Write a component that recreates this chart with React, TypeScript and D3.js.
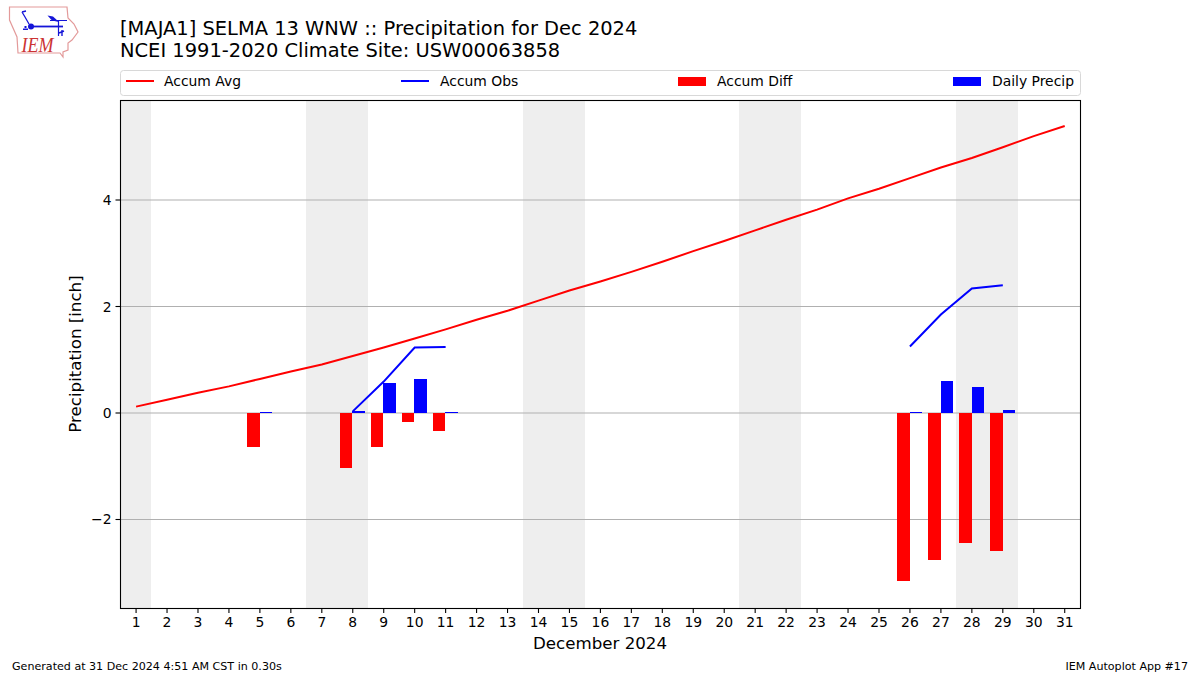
import React from "react";
import * as d3 from "d3";

const days = d3.range(1, 32);
const accumAvg = [0.12,0.25,0.38,0.5,0.64,0.78,0.91,1.07,1.23,1.40,1.57,1.75,1.92,2.11,2.30,2.47,2.65,2.84,3.04,3.23,3.43,3.63,3.82,4.03,4.21,4.41,4.61,4.79,4.99,5.2,5.39];
const obsDaysA = [8,9,10,11];
const obsValsA = [0.03,0.59,1.23,1.24];
const obsDaysB = [26,27,28,29];
const obsValsB = [1.25,1.85,2.34,2.40];
const diffDays = [5,8,9,10,11,26,27,28,29];
const diffVals = [-0.63,-1.03,-0.63,-0.17,-0.33,-3.16,-2.76,-2.45,-2.59];
const precipDays = [5,8,9,10,11,26,27,28,29];
const precipVals = [0.02,0.03,0.56,0.63,0.02,0.02,0.60,0.49,0.06];
const weekends: [number, number][] = [[0.5,1.5],[6.5,8.5],[13.5,15.5],[20.5,22.5],[27.5,29.5]];
const yTicks = [-2,0,2,4];

const FONT = "'DejaVu Sans', sans-serif";
const L = 120.5, R = 1080.5, T = 100, B = 608;
const x = d3.scaleLinear().domain([0.5, 31.5]).range([L - 0.2, R - 0.6]);
const y = d3.scaleLinear().domain([5.878, -3.662]).range([T, B]);
const BW = 0.4;

const line = d3.line<[number, number]>().x(d => x(d[0]) + 0.3).y(d => y(d[1]));
const pairs = (a: number[], b: number[]) => a.map((v, i) => [v, b[i]] as [number, number]);

function Logo() {
  return (
    <g>
      <path d="M9.5 7 L67 7 L68 18 L74 24 L78 32 L72 40 L68 43 L68 50 L63 52 L63 57 L60 53 L18 53 L17 37 L9.5 20 Z" fill="#fff" stroke="#e39a9a" strokeWidth={1.2} />
      <g stroke="#1515d8" fill="none">
        <path d="M31 26.5 L63 26.5" strokeWidth={1.8} />
        <path d="M22 12 L25 17 L29 24 M22 12 L26 11" strokeWidth={1.3} />
        <path d="M50 20.5 L67 20.5 M58.5 21 L58.5 36" strokeWidth={1.2} />
        <path d="M62 30 L62 36 M59 33 L64 31" strokeWidth={1.4} />
      </g>
      <path d="M47.5 15.5 L53 16.5 L59 22 L52 20.5 Z" fill="#1515d8" />
      <circle cx={31} cy={26.5} r={3} fill="#1515d8" />
      <path d="M23 28.5 h5 v1.5 h-5 Z M24.5 26 h2 v2 h-2 Z" fill="#1515d8" />
      <text x={21.5} y={52} fontFamily="'Liberation Serif', serif" fontStyle="italic" fontSize={21} textLength={32} lengthAdjust="spacingAndGlyphs" fill="#cc3333">IEM</text>
    </g>
  );
}

export default function App() {
  return (
    <svg width={1200} height={675} style={{ position: "absolute", left: 0, top: 0, background: "#fff" }} fontFamily={FONT}>
      <rect width={1200} height={675} fill="#fff" />
      <Logo />
      <text x={120} y={35} fontSize={19.45} fill="#000">[MAJA1] SELMA 13 WNW :: Precipitation for Dec 2024</text>
      <text x={120} y={57} fontSize={19.45} fill="#000">NCEI 1991-2020 Climate Site: USW00063858</text>

      <rect x={120.5} y={70.5} width={960} height={25} rx={3} fill="#fff" stroke="#d8d8d8" />
      <line x1={126} x2={154} y1={81} y2={81} stroke="#ff0000" strokeWidth={2} />
      <text x={164} y={86} fontSize={13.9}>Accum Avg</text>
      <line x1={401} x2={429} y1={81} y2={81} stroke="#0000ff" strokeWidth={2} />
      <text x={440} y={86} fontSize={13.9}>Accum Obs</text>
      <rect x={678} y={77} width={28} height={9} fill="#ff0000" />
      <text x={717} y={86} fontSize={13.9}>Accum Diff</text>
      <rect x={953} y={77} width={28} height={9} fill="#0000ff" />
      <text x={992} y={86} fontSize={13.9}>Daily Precip</text>

      {weekends.map(([a, b]) => (
        <rect key={a} x={x(a)} y={T} width={x(b) - x(a)} height={B - T} fill="#eeeeee" shapeRendering="crispEdges" />
      ))}
      {yTicks.map(t => (
        <line key={t} x1={L} x2={R} y1={y(t)} y2={y(t)} stroke="#b0b0b0" strokeWidth={1.1} />
      ))}
      {diffDays.map((d, i) => (
        <rect key={d} x={x(d - BW)} y={y(0)} width={x(d) - x(d - BW)} height={y(diffVals[i]) - y(0)} fill="#ff0000" shapeRendering="crispEdges" />
      ))}
      {precipDays.map((d, i) => (
        <rect key={d} x={x(d)} y={y(precipVals[i])} width={x(d + BW) - x(d)} height={y(0) - y(precipVals[i])} fill="#0000ff" shapeRendering="crispEdges" />
      ))}
      <path d={line(pairs(days, accumAvg)) || ""} fill="none" stroke="#ff0000" strokeWidth={2} />
      <path d={line(pairs(obsDaysA, obsValsA)) || ""} fill="none" stroke="#0000ff" strokeWidth={2} />
      <path d={line(pairs(obsDaysB, obsValsB)) || ""} fill="none" stroke="#0000ff" strokeWidth={2} />

      <rect x={L} y={T + 0.5} width={R - L} height={B - T} fill="none" stroke="#000" strokeWidth={1.1} />
      {days.map(d => (
        <g key={d}>
          <line x1={x(d) + 0.3} x2={x(d) + 0.3} y1={B} y2={B + 5} stroke="#000" strokeWidth={1.1} />
          <text x={x(d) + 0.3} y={B + 19} fontSize={13.9} textAnchor="middle">{d}</text>
        </g>
      ))}
      {yTicks.map(t => (
        <g key={t}>
          <line x1={L - 5} x2={L} y1={y(t)} y2={y(t)} stroke="#000" strokeWidth={1.1} />
          <text x={L - 9} y={y(t) + 5} fontSize={13.9} textAnchor="end">{t < 0 ? "\u2212" + Math.abs(t) : t}</text>
        </g>
      ))}
      <text x={600} y={649} fontSize={16.67} textAnchor="middle">December 2024</text>
      <text transform="translate(81,354) rotate(-90)" fontSize={16.67} textAnchor="middle">Precipitation [inch]</text>
      <text x={12} y={670} fontSize={11.1}>Generated at 31 Dec 2024 4:51 AM CST in 0.30s</text>
      <text x={1188} y={670} fontSize={11.1} textAnchor="end">IEM Autoplot App #17</text>
    </svg>
  );
}
